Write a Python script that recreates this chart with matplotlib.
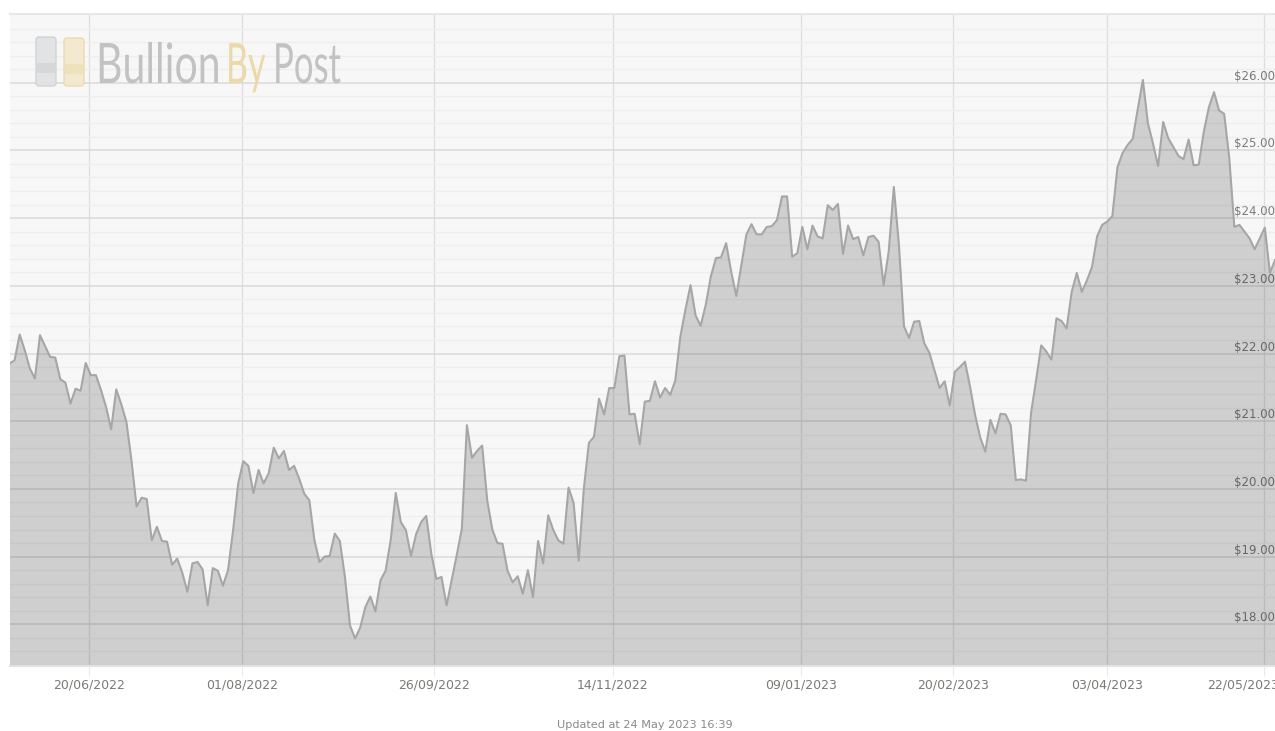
import numpy as np
import matplotlib
matplotlib.use("Agg")
import matplotlib.pyplot as plt
from matplotlib.patches import FancyBboxPatch, Rectangle
from matplotlib.patheffects import AbstractPathEffect
from matplotlib.ticker import FixedLocator
from matplotlib.transforms import Affine2D, ScaledTranslation

# --- data -------------------------------------------------------------------
prices = [
    21.85, 21.90, 22.28, 22.05, 21.78, 21.63, 22.27, 22.11, 21.95, 21.94,
    21.62, 21.57, 21.26, 21.48, 21.45, 21.86, 21.68, 21.68, 21.46, 21.21,
    20.88, 21.47, 21.25, 20.99, 20.42, 19.74, 19.87, 19.85, 19.24, 19.44,
    19.23, 19.22, 18.88, 18.97, 18.76, 18.48, 18.90, 18.92, 18.81, 18.28,
    18.83, 18.79, 18.57, 18.80, 19.39, 20.08, 20.41, 20.34, 19.94, 20.28,
    20.08, 20.23, 20.61, 20.45, 20.56, 20.28, 20.34, 20.15, 19.93, 19.83,
    19.24, 18.92, 19.00, 19.01, 19.34, 19.23, 18.70, 17.98, 17.79, 17.95,
    18.25, 18.41, 18.19, 18.65, 18.79, 19.24, 19.94, 19.51, 19.39, 19.01,
    19.33, 19.51, 19.60, 19.04, 18.67, 18.70, 18.28, 18.65, 19.02, 19.41,
    20.94, 20.46, 20.56, 20.64, 19.83, 19.40, 19.20, 19.19, 18.79, 18.62,
    18.71, 18.45, 18.80, 18.40, 19.23, 18.90, 19.61, 19.39, 19.24, 19.19,
    20.02, 19.79, 18.94, 20.00, 20.68, 20.77, 21.33, 21.10, 21.49, 21.49,
    21.96, 21.97, 21.10, 21.11, 20.66, 21.29, 21.30, 21.59, 21.35, 21.49,
    21.39, 21.60, 22.25, 22.65, 23.01, 22.56, 22.41, 22.72, 23.14, 23.41,
    23.42, 23.63, 23.21, 22.85, 23.31, 23.76, 23.91, 23.76, 23.76, 23.87,
    23.88, 23.97, 24.32, 24.32, 23.43, 23.48, 23.87, 23.54, 23.89, 23.73,
    23.70, 24.19, 24.12, 24.21, 23.47, 23.89, 23.69, 23.72, 23.45, 23.72,
    23.74, 23.65, 23.01, 23.51, 24.46, 23.61, 22.40, 22.23, 22.47, 22.48,
    22.15, 22.01, 21.75, 21.49, 21.59, 21.23, 21.73, 21.80, 21.88, 21.51,
    21.09, 20.76, 20.55, 21.02, 20.82, 21.11, 21.10, 20.94, 20.13, 20.14,
    20.12, 21.12, 21.61, 22.12, 22.03, 21.91, 22.52, 22.48, 22.37, 22.91,
    23.19, 22.91, 23.08, 23.28, 23.73, 23.90, 23.95, 24.03, 24.75, 24.96,
    25.08, 25.17, 25.61, 26.04, 25.40, 25.10, 24.77, 25.42, 25.18, 25.05,
    24.92, 24.87, 25.16, 24.78, 24.79, 25.28, 25.64, 25.86, 25.59, 25.54,
    24.89, 23.87, 23.90, 23.80, 23.70, 23.54, 23.70, 23.86, 23.19, 23.38,
]
date_ticks = [15.6, 45.7, 83.6, 118.7, 155.8, 185.7, 215.9, 246.8]
date_labels = ["20/06/2022", "01/08/2022", "26/09/2022", "14/11/2022",
               "09/01/2023", "20/02/2023", "03/04/2023", "22/05/2023"]
price_ticks = [18, 19, 20, 21, 22, 23, 24, 25, 26]
price_labels = [f"${p:.2f}" for p in price_ticks]
minor_prices = [p / 5 for p in range(87, 136) if p % 5 != 0]
updated = "Updated at 24 May 2023 16:39"

W, H = 1275, 731
LEFT, TOP, BOTTOM = 9.5, 14, 666
TEXT = "#7d7975"
plt.rcParams["font.family"] = ["DejaVu Sans"]


class StretchY(AbstractPathEffect):
    """Draw text taller about a baseline, the logo lettering is condensed."""

    def __init__(self, factor, base):
        super().__init__()
        self.factor = factor
        self.base = base

    def draw_path(self, renderer, gc, tpath, affine, rgbFace=None):
        t = affine + Affine2D().translate(0, -self.base).scale(1, self.factor).translate(0, self.base)
        renderer.draw_path(gc, tpath, t, rgbFace)


fig = plt.figure(figsize=(W / 100, H / 100), dpi=100, facecolor="white")
ax = fig.add_axes([LEFT / W, 1 - BOTTOM / H, (W - LEFT) / W, (BOTTOM - TOP) / H])
ax.set_facecolor("#f7f7f7")

x = np.arange(len(prices))
ax.fill_between(x, prices, 17, color="black", alpha=0.16, lw=0, zorder=2)
ax.plot(x, prices, color="#a6a6a6", lw=1.5, zorder=3)
ax.set_xlim(0, 249)
ax.set_ylim(17.384, 27.015)

# --- grid / ticks ------------------------------------------------------------
ax.set_axisbelow(True)
ax.yaxis.set_major_locator(FixedLocator(price_ticks))
ax.yaxis.set_minor_locator(FixedLocator(minor_prices))
ax.set_yticklabels(price_labels)
ax.yaxis.tick_right()
ax.grid(axis="y", which="major", color="#d9d9d9", lw=1.1)
ax.grid(axis="y", which="minor", color="#eeeeee", lw=1.0)
ax.tick_params(axis="y", which="both", length=0, pad=-29.5, labelsize=8.5,
               labelcolor=TEXT)
for lab in ax.get_yticklabels():
    lab.set_va("bottom")

ax.set_xticks(date_ticks, date_labels)
ax.grid(axis="x", color="#dedede", lw=0.9)
ax.tick_params(axis="x", length=7.5, width=0.8, color="#eaeaea", pad=1.5,
               labelsize=9, labelcolor=TEXT)
# last label sits left of its tick and runs off the canvas
last = ax.get_xticklabels()[-1]
last.set_transform(last.get_transform() + ScaledTranslation(-0.205, 0, fig.dpi_scale_trans))

for side in ("left", "right"):
    ax.spines[side].set_visible(False)
ax.spines["top"].set_color("#e8e8e8")
ax.spines["top"].set_linewidth(1.5)
ax.spines["bottom"].set_color("#e2e2e2")
ax.spines["bottom"].set_linewidth(1.5)

# --- logo + footer, in pixel coords -------------------------------------------
over = fig.add_axes([0, 0, 1, 1], facecolor="none")
over.set_xlim(0, W)
over.set_ylim(H, 0)
over.axis("off")

for x0, y0, w, h, face, edge, band in [
    (36, 37, 20, 49, "#e0e1e3", "#cfd0d2", "#cfd0d2"),
    (64, 38, 20, 48, "#f3e8cd", "#ecd9a8", "#eedcb0"),
]:
    over.add_patch(FancyBboxPatch((x0, y0), w, h, boxstyle="round,pad=0,rounding_size=3",
                                  fc=face, ec=edge, lw=1, alpha=0.9))
    over.add_patch(Rectangle((x0 + 1, y0 + 26), w - 2, 10, fc=band, ec="none", alpha=0.6))

logo_font = ["Lato", "DejaVu Sans"]
base = H - 83
for lx, word, col, size, stretch in [
    (96, "Bullion", "#c2c2c4", 29.5, 1.36),
    (226, "By", "#ecd9a8", 24.5, 1.63),
    (273, "Post", "#c2c2c4", 25, 1.6),
]:
    over.text(lx, 83, word, color=col, fontsize=size, family=logo_font,
              va="baseline", path_effects=[StretchY(stretch, base)])

over.text(645, 725.5, updated, color="#8a8a8a", fontsize=8.1, ha="center", va="center")

fig.savefig("out.png", dpi=100)
